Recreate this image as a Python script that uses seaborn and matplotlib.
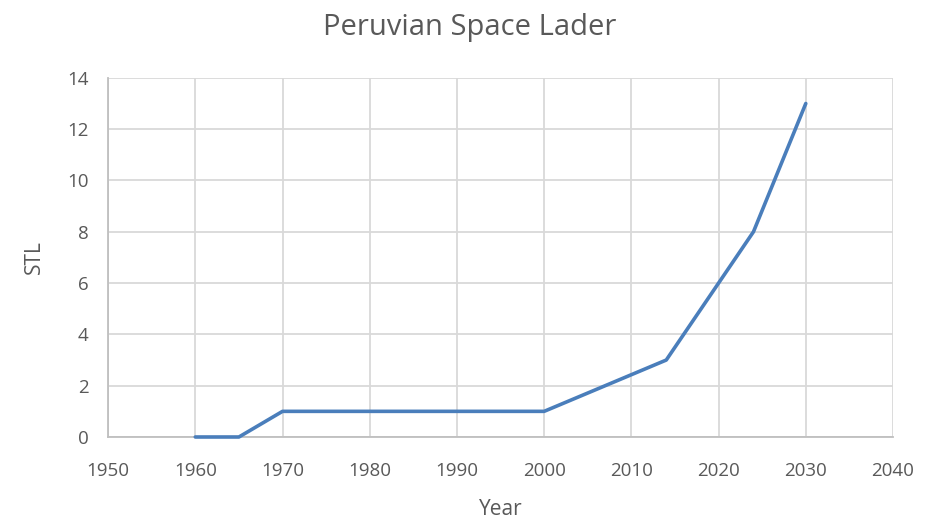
import matplotlib
matplotlib.use('Agg')
import matplotlib.pyplot as plt
import pandas as pd
import seaborn as sns

years = [1960, 1965, 1970, 2000, 2014, 2024, 2030]
stl = [0, 0, 1, 1, 3, 8, 13]

df = pd.DataFrame({'Year': years, 'STL': stl})

sns.set_theme(style='white')
plt.rcParams['font.family'] = ['Open Sans', 'DejaVu Sans']
txt = '#595959'
grid = '#d9d9d9'

fig = plt.figure(figsize=(9.4, 5.19), dpi=100)
ax = fig.add_axes([0.115, 0.158, 0.835, 0.692])

sns.lineplot(data=df, x='Year', y='STL', ax=ax, color='#4a7ebb',
             linewidth=2.6, zorder=5, clip_on=False)

ax.set_xlim(1950, 2040)
ax.set_ylim(0, 14)
ax.set_xticks(range(1950, 2041, 10))
ax.set_yticks(range(0, 15, 2))
ax.grid(True, color=grid, linewidth=1.3)
ax.set_axisbelow(True)
for s in ['top', 'right']:
    ax.spines[s].set_visible(False)
for s in ['left', 'bottom']:
    ax.spines[s].set_color('#bfbfbf')
    ax.spines[s].set_linewidth(1.3)
ax.tick_params(axis='both', length=0, labelsize=13.5, colors=txt)
ax.tick_params(axis='x', pad=18)
ax.tick_params(axis='y', pad=14)
ax.set_xlabel('Year', fontsize=15, color=txt, labelpad=14)
ax.set_ylabel('STL', fontsize=15, color=txt, labelpad=16)
fig.suptitle('Peruvian Space Lader', fontsize=21, color=txt, y=0.975)

fig.savefig('out.png', dpi=100)
